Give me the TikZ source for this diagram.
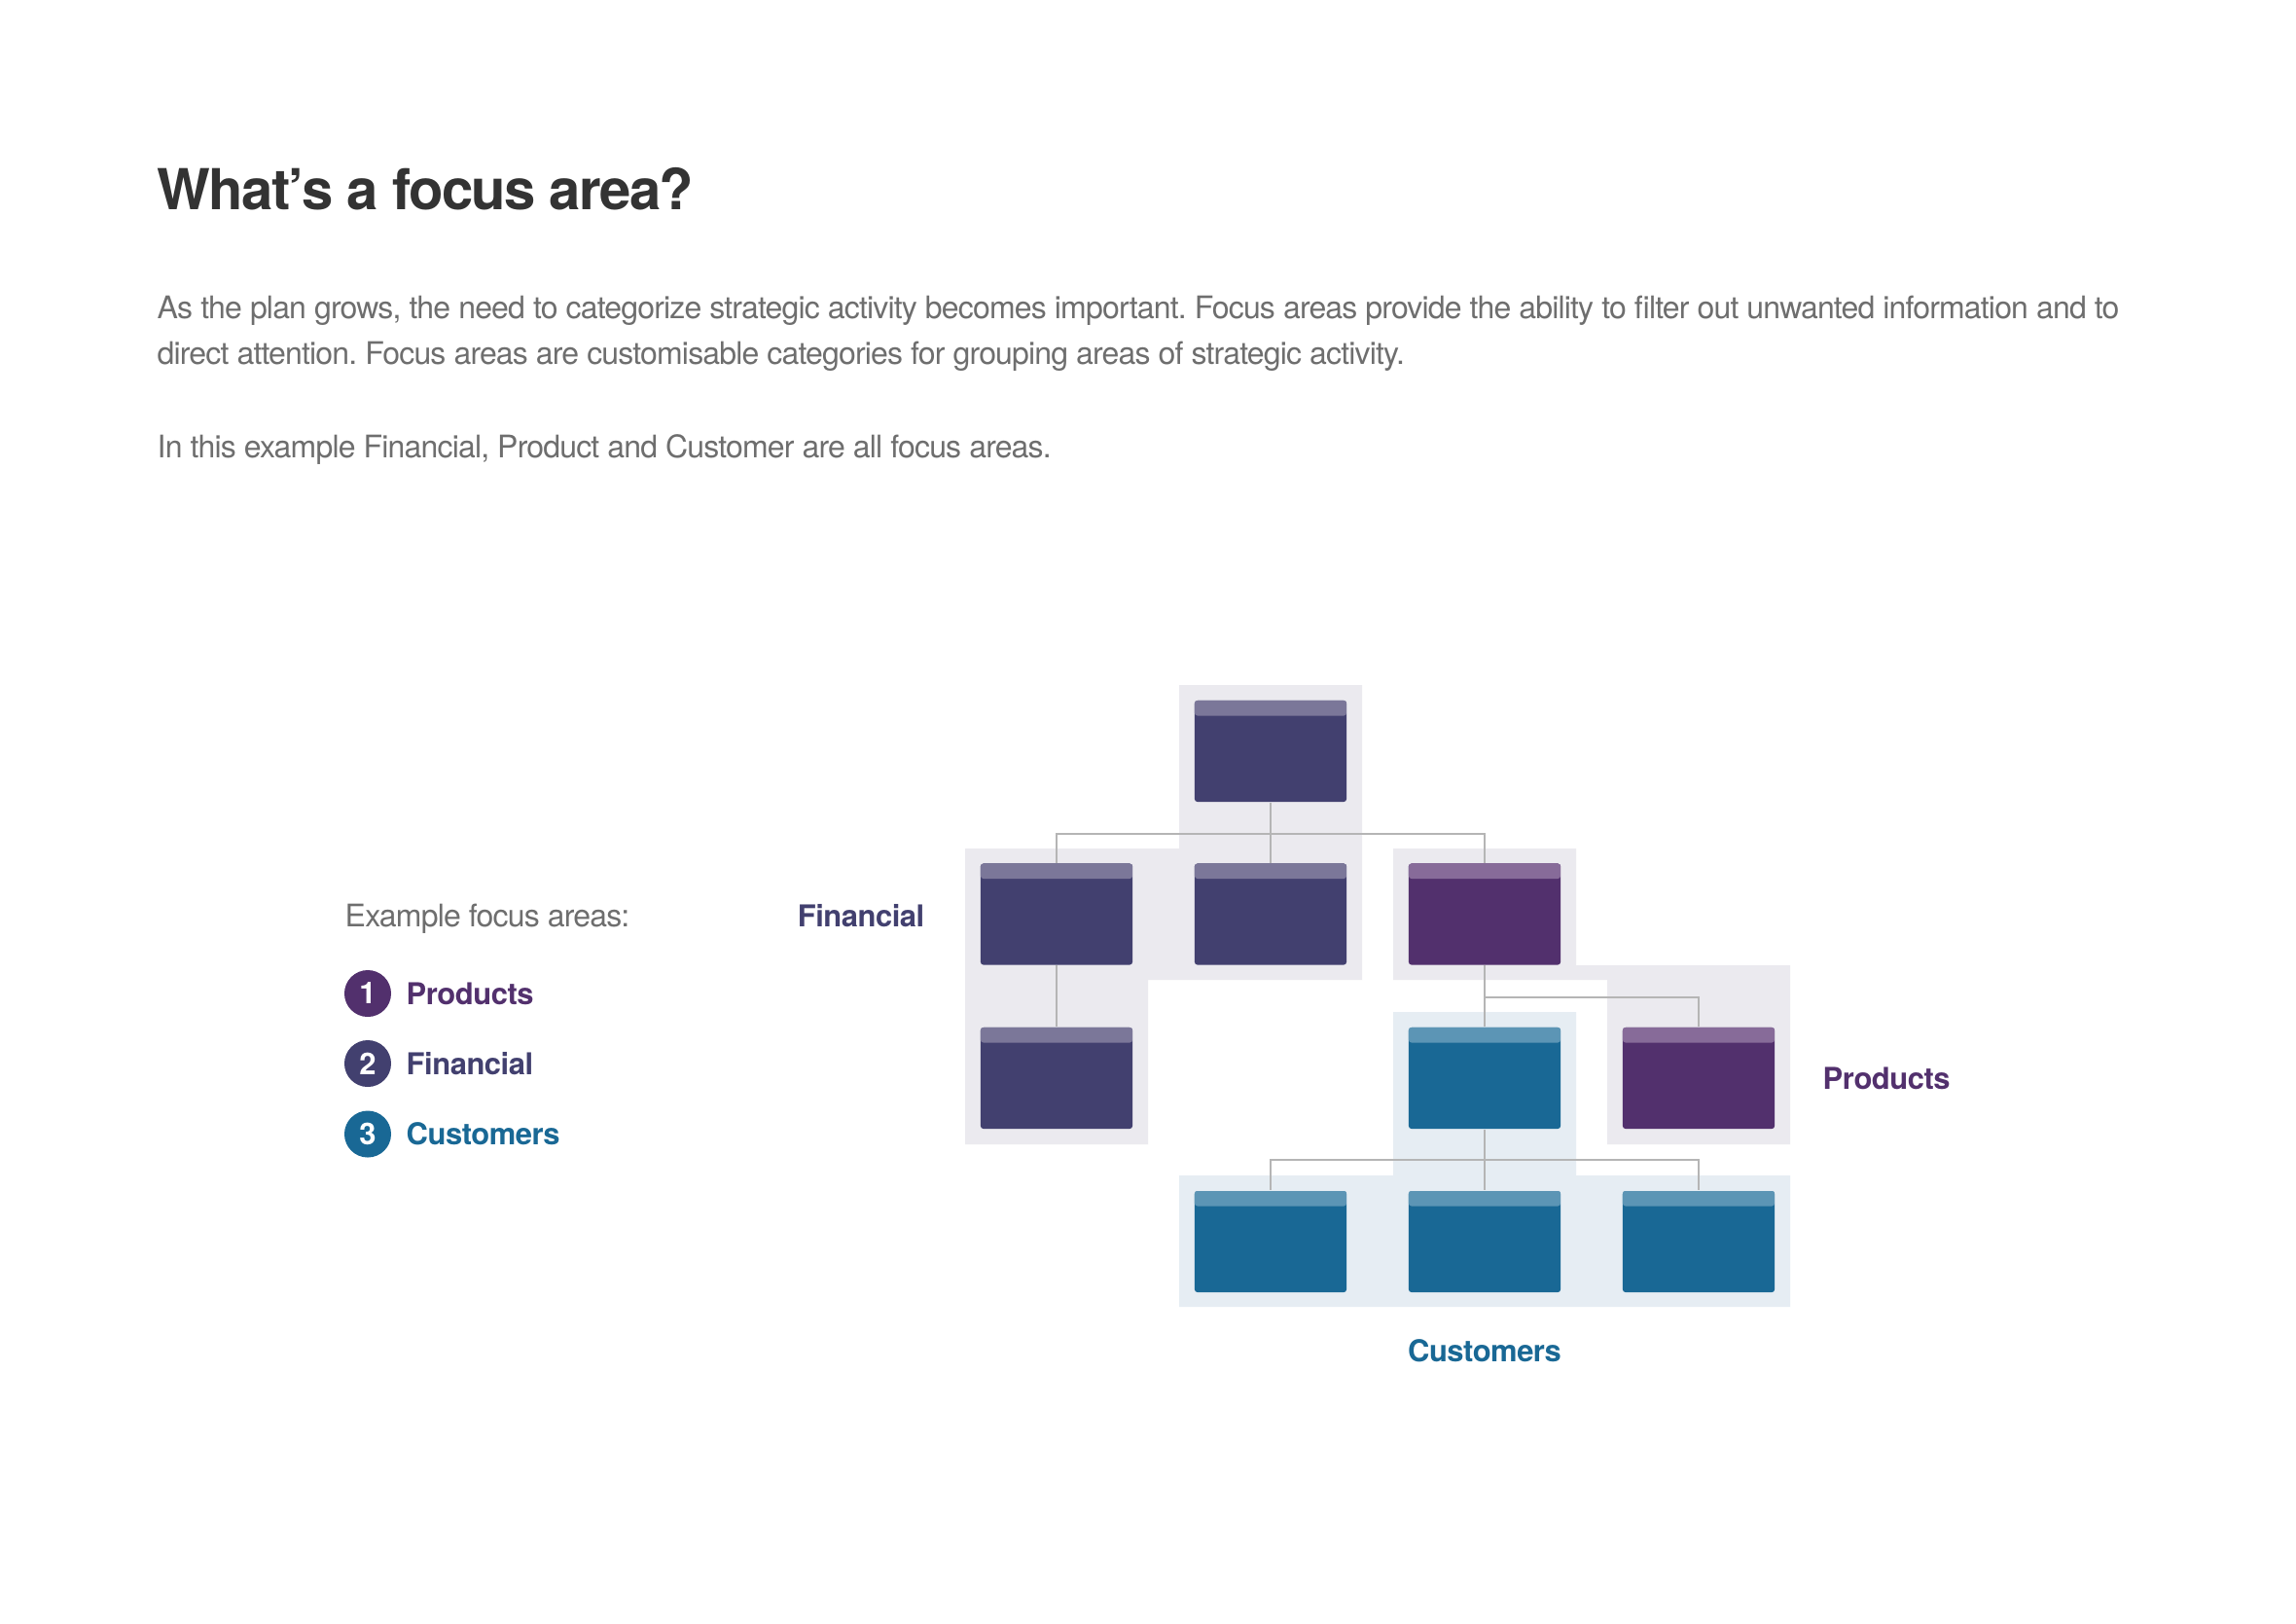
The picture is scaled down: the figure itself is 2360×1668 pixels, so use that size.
\documentclass[tikz,border=0pt]{standalone}
\usepackage{fontspec}
\setmainfont{TeX Gyre Heros}
\usetikzlibrary{positioning}
\frenchspacing
\definecolor{fin}{HTML}{42406F}
\definecolor{finhd}{HTML}{7B7799}
\definecolor{prd}{HTML}{52306D}
\definecolor{prdhd}{HTML}{876B99}
\definecolor{cus}{HTML}{196895}
\definecolor{cushd}{HTML}{5C95B5}
\definecolor{grpgray}{HTML}{EBEAEF}
\definecolor{grpblue}{HTML}{E6EDF3}
\definecolor{wiregray}{HTML}{B5B5B5}
\definecolor{ink}{HTML}{333333}
\definecolor{bodygray}{HTML}{6E6E6E}
\begin{document}
\begin{tikzpicture}[x=0.01cm, y=-0.01cm,
  card/.style={minimum width=1.56cm, minimum height=1.04cm, inner sep=0pt, rounded corners=0.8pt, fill=#1,
    path picture={\fill[#1hd] (path picture bounding box.north west) rectangle ([yshift=-0.155cm]path picture bounding box.north east);}},
  link/.style={draw=wiregray, line width=0.45pt},
  bodytxt/.style={anchor=base west, inner sep=0pt, text=bodygray, font=\fontsize{9.1}{13.4}\selectfont\addfontfeatures{LetterSpace=-2.6}},
  lbl/.style={inner sep=0pt, font=\fontsize{8.8}{10}\selectfont\bfseries\addfontfeatures{LetterSpace=-1.5}},
  dot/.style={circle, fill=#1, minimum size=0.48cm, inner sep=0pt, text=white, font=\fontsize{8.8}{10}\selectfont\bfseries}]
\useasboundingbox[fill=white] (0,0) rectangle (2360,1668);
% heading and text
\node[anchor=base west, inner sep=0pt, text=ink, font=\fontsize{16.5}{20}\selectfont\bfseries\addfontfeatures{LetterSpace=-3}] (title) at (161,215) {What’s a focus area?};
\node[bodytxt] (para1) at (161,327) {As the plan grows, the need to categorize strategic activity becomes important. Focus areas provide the ability to filter out unwanted information and to};
\node[bodytxt] (para2) at (161,374) {direct attention. Focus areas are customisable categories for grouping areas of strategic activity.};
\node[bodytxt] (para3) at (161,470) {In this example Financial, Product and Customer are all focus areas.};
% group areas
\fill[grpgray] (992,872) -- (1212,872) -- (1212,704) -- (1400,704) -- (1400,1007) -- (1180,1007) -- (1180,1176) -- (992,1176) -- cycle;
\fill[grpgray] (1432,872) -- (1620,872) -- (1620,992) -- (1840,992) -- (1840,1176) -- (1652,1176) -- (1652,1007) -- (1432,1007) -- cycle;
\fill[grpblue] (1432,1040) -- (1620,1040) -- (1620,1208) -- (1840,1208) -- (1840,1343) -- (1212,1343) -- (1212,1208) -- (1432,1208) -- cycle;
% cards
\node[card=fin] (top) at (1306,772) {};
\node[card=fin] (fin1) at (1086,939.5) {};
\node[card=fin] (fin2) at (1306,939.5) {};
\node[card=prd] (prd1) at (1526,939.5) {};
\node[card=fin] (fin3) at (1086,1108) {};
\node[card=cus] (cus1) at (1526,1108) {};
\node[card=prd] (prd2) at (1746,1108) {};
\node[card=cus] (cus2) at (1306,1276) {};
\node[card=cus] (cus3) at (1526,1276) {};
\node[card=cus] (cus4) at (1746,1276) {};
% links
\coordinate (j1) at (1306,857);
\coordinate (j2) at (1526,1025);
\coordinate (j3) at (1526,1192);
\draw[link] (top) -- (j1) -| (fin1);
\draw[link] (j1) -| (prd1);
\draw[link] (j1) -- (fin2);
\draw[link] (fin1) -- (fin3);
\draw[link] (prd1) -- (j2) -- (cus1);
\draw[link] (j2) -| (prd2);
\draw[link] (cus1) -- (j3) -- (cus3);
\draw[link] (j3) -| (cus2);
\draw[link] (j3) -| (cus4);
% group labels
\node[lbl, text=fin, anchor=base east] (lblfin) at (951,952) {Financial};
\node[lbl, text=prd, anchor=base west] (lblprd) at (1873,1119.5) {Products};
\node[lbl, text=cus, anchor=base] (lblcus) at (1526,1399.5) {Customers};
% legend
\node[bodytxt] (lgdhead) at (354,952) {Example focus areas:};
\node[dot=prd] (n1) at (378,1021) {1};
\node[dot=fin] (n2) at (378,1093) {2};
\node[dot=cus] (n3) at (378,1165.5) {3};
\node[lbl, text=prd, anchor=base west] (l1) at (417,1032) {Products};
\node[lbl, text=fin, anchor=base west] (l2) at (417,1104) {Financial};
\node[lbl, text=cus, anchor=base west] (l3) at (417,1176.5) {Customers};
\end{tikzpicture}
\end{document}
